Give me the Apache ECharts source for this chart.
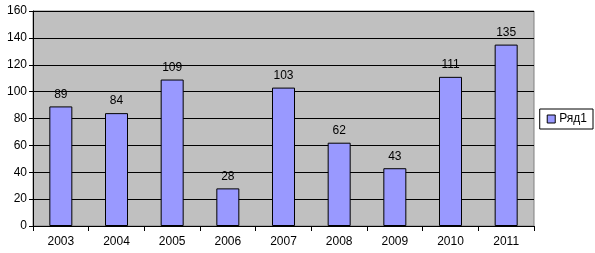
<!DOCTYPE html>
<html><head><meta charset="utf-8">
<script src="https://cdn.jsdelivr.net/npm/echarts@6/dist/echarts.min.js"></script>
<style>html,body{margin:0;padding:0;background:#fff}#c{width:595px;height:253px}</style>
</head><body><div id="c"></div>
<script>
const categories = ['2003','2004','2005','2006','2007','2008','2009','2010','2011'];
const values = [89, 84, 109, 28, 103, 62, 43, 111, 135];
const seriesName = 'Ряд1';
const chart = echarts.init(document.getElementById('c'), null, {renderer:'canvas'});
chart.setOption({
  animation:false,
  textStyle:{fontFamily:'Liberation Sans, Arial, sans-serif'},
  grid:{left:33, top:11, right:61, bottom:27, show:true, backgroundColor:'#C0C0C0', borderColor:'#808080', borderWidth:1},
  legend:{show:true, right:2, top:109, orient:'vertical', data:[{name:seriesName, icon:'rect'}],
    itemWidth:8, itemHeight:8, itemGap:0, padding:[4,6,4,7], borderColor:'#000', borderWidth:1,
    itemStyle:{borderColor:'#000', borderWidth:1},
    textStyle:{fontSize:12, color:'#000', fontFamily:'Liberation Sans, Arial, sans-serif', padding:[0,0,0,-1]}},
  xAxis:{type:'category', data:categories,
    axisLine:{lineStyle:{color:'#000'}}, axisTick:{show:true, length:5, lineStyle:{color:'#000'}},
    axisLabel:{color:'#000', fontSize:12, margin:10}},
  yAxis:{type:'value', min:0, max:160, interval:20,
    axisLine:{show:true, lineStyle:{color:'#000'}}, axisTick:{show:true, length:4, lineStyle:{color:'#000'}},
    axisLabel:{color:'#000', fontSize:12, margin:6},
    splitLine:{lineStyle:{color:'#000', width:1}}},
  series:[{name:seriesName, type:'bar', data:values, barWidth:23,
    itemStyle:{color:'#9999FF', borderColor:'#000', borderWidth:1},
    label:{show:true, position:'top', color:'#000', fontSize:12, distance:6}}]
});
</script></body></html>
